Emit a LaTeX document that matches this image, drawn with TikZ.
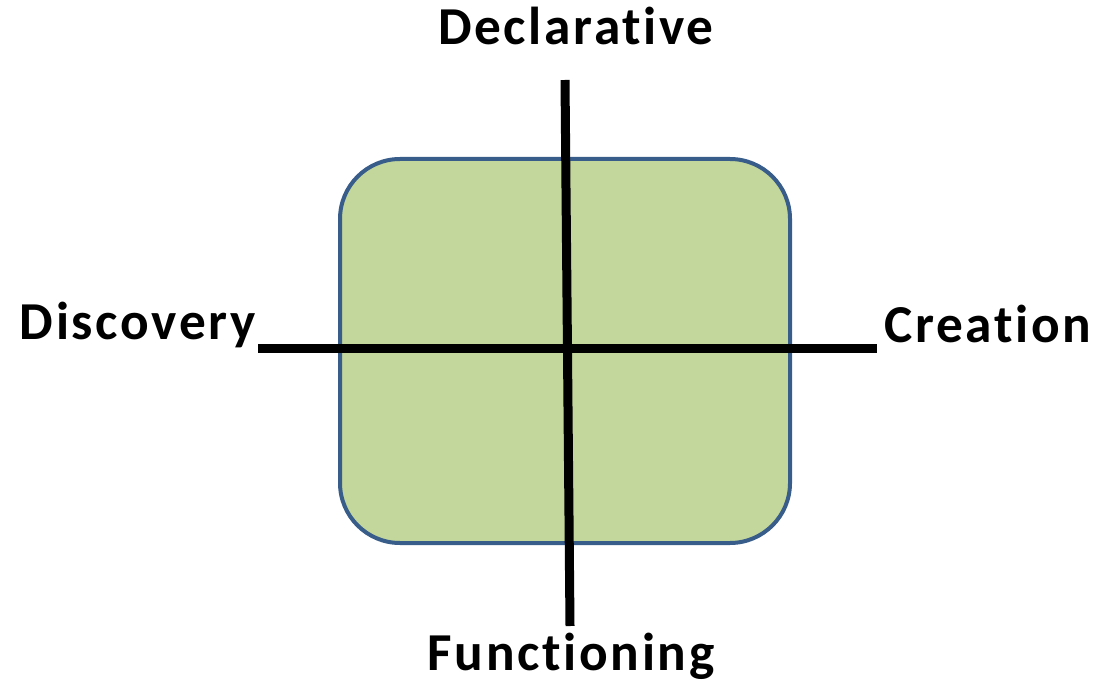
\documentclass[tikz,border=0pt]{standalone}
\usepackage{fontspec}
\setmainfont[RawFeature=-liga,LetterSpace=5]{Carlito}
\usetikzlibrary{positioning}
\definecolor{boxgreen}{RGB}{195,214,155}
\definecolor{boxblue}{RGB}{56,93,138}
\tikzset{
	every node/.style={anchor=base,align=center,inner sep=0pt,font=\fontsize{40}{42}\selectfont\bfseries},
	axis/.style={line width=6.75pt,black},
}
\begin{document}
\begin{tikzpicture}[x=0.75pt,y=-0.75pt]
			\useasboundingbox (0,0) rectangle (1105,698);

			% green box..................
			\draw [boxblue, fill=boxgreen, line width=3pt, rounded corners=45pt] (340,159) rectangle (790,543);

			% axis ends....................
			\coordinate (top) at (565,80);
			\coordinate (bottom) at (570,626);
			\coordinate (left) at (258,348.5);
			\coordinate (right) at (877,348.5);

			% axes.........................
			\draw [axis] (top) -- (bottom);
			\draw [axis] (left) -- (right);

			% labels.......................
			\node (declarative) at (576,45) {Declarative};
			\node (functioning) at (571,670) {Functioning};
			\node [anchor=base east] (discovery) at (256,339) {Discovery};
			\node [anchor=base west] (creation) at (884,342) {Creation};
		\end{tikzpicture}
\end{document}
